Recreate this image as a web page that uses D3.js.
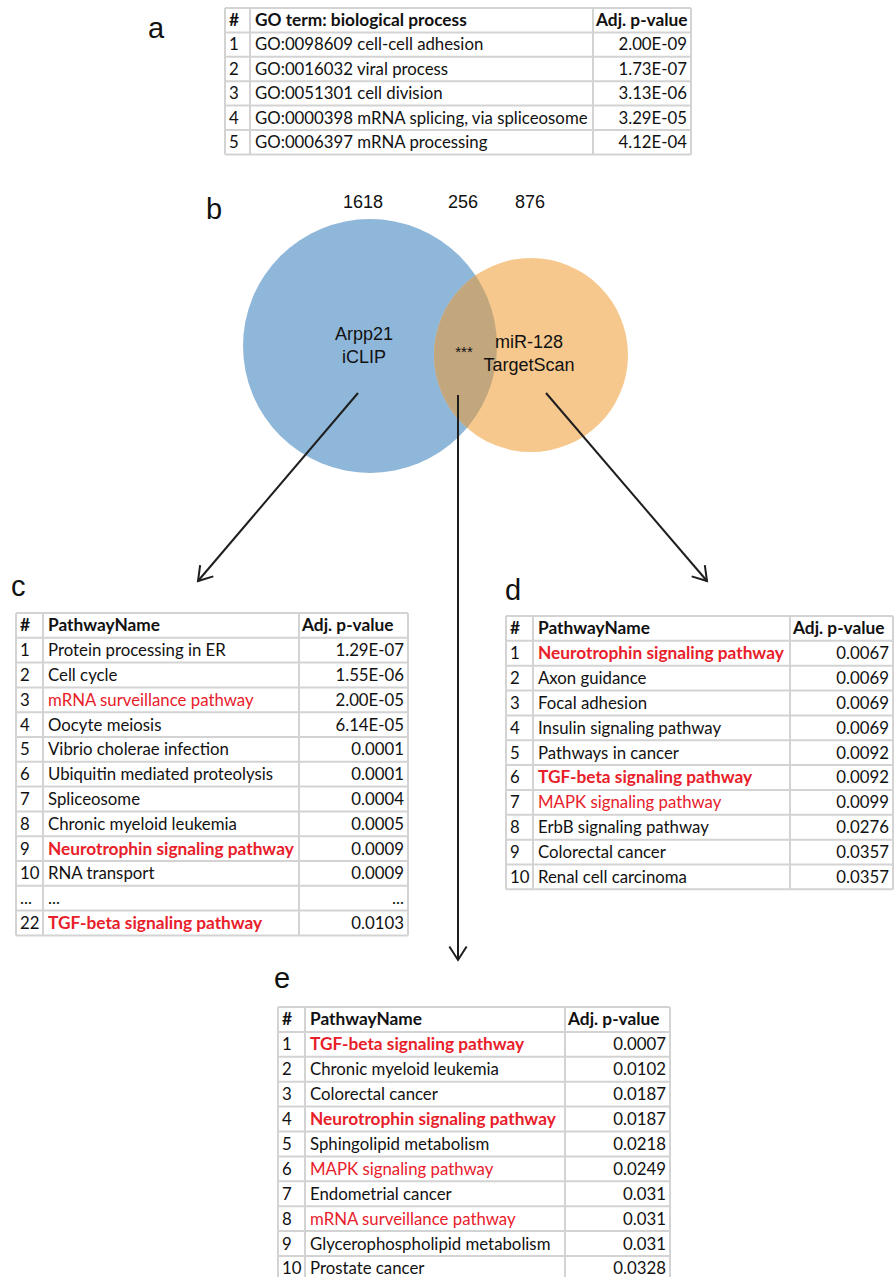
<!DOCTYPE html>
<html>
<head>
<meta charset="utf-8">
<script src="https://cdn.jsdelivr.net/npm/d3@7"></script>
<style>
  html, body { margin: 0; padding: 0; background: #fff; }
  svg { display: block; }
  .cell { font-family: Lato, "Open Sans", sans-serif; font-size: 16.8px; fill: #111;
          font-variant-numeric: tabular-nums; font-feature-settings: "tnum" 1; }
  .cell.bold { font-weight: 700; font-size: 17.3px; }
  .panel { font-family: "Liberation Sans", Arial, sans-serif; font-size: 29px; fill: #111; }
  .venn { font-family: "Liberation Sans", Arial, sans-serif; font-size: 18px; fill: #111; }
</style>
</head>
<body>
<svg id="fig" width="894" height="1277"></svg>
<script>
// ---- GO enrichment (panel a) ----
const goIds = ["1", "2", "3", "4", "5"];
const goTerms = [
  "GO:0098609 cell-cell adhesion",
  "GO:0016032 viral process",
  "GO:0051301 cell division",
  "GO:0000398 mRNA splicing, via spliceosome",
  "GO:0006397 mRNA processing"
];
const goPvalues = ["2.00E-09", "1.73E-07", "3.13E-06", "3.29E-05", "4.12E-04"];

// ---- Venn diagram (panel b) ----
const vennCounts = [1618, 256, 876];
const vennSets = [["Arpp21", "iCLIP"], ["miR-128", "TargetScan"]];
const vennSignif = "***";

// ---- KEGG pathways, Arpp21 iCLIP targets (panel c) ----
const cIds = ["1", "2", "3", "4", "5", "6", "7", "8", "9", "10", "...", "22"];
const cNames = [
  "Protein processing in ER", "Cell cycle", "mRNA surveillance pathway", "Oocyte meiosis",
  "Vibrio cholerae infection", "Ubiquitin mediated proteolysis", "Spliceosome",
  "Chronic myeloid leukemia", "Neurotrophin signaling pathway", "RNA transport", "...",
  "TGF-beta signaling pathway"
];
const cPvalues = ["1.29E-07", "1.55E-06", "2.00E-05", "6.14E-05", "0.0001", "0.0001",
  "0.0004", "0.0005", "0.0009", "0.0009", "...", "0.0103"];
// highlight: 0 none, 1 red, 2 red bold
const cMark = [0, 0, 1, 0, 0, 0, 0, 0, 2, 0, 0, 2];

// ---- KEGG pathways, miR-128 TargetScan targets (panel d) ----
const dIds = ["1", "2", "3", "4", "5", "6", "7", "8", "9", "10"];
const dNames = [
  "Neurotrophin signaling pathway", "Axon guidance", "Focal adhesion",
  "Insulin signaling pathway", "Pathways in cancer", "TGF-beta signaling pathway",
  "MAPK signaling pathway", "ErbB signaling pathway", "Colorectal cancer",
  "Renal cell carcinoma"
];
const dPvalues = ["0.0067", "0.0069", "0.0069", "0.0069", "0.0092", "0.0092",
  "0.0099", "0.0276", "0.0357", "0.0357"];
const dMark = [2, 0, 0, 0, 0, 2, 1, 0, 0, 0];

// ---- KEGG pathways, overlap (panel e) ----
const eIds = ["1", "2", "3", "4", "5", "6", "7", "8", "9", "10"];
const eNames = [
  "TGF-beta signaling pathway", "Chronic myeloid leukemia", "Colorectal cancer",
  "Neurotrophin signaling pathway", "Sphingolipid metabolism", "MAPK signaling pathway",
  "Endometrial cancer", "mRNA surveillance pathway", "Glycerophospholipid metabolism",
  "Prostate cancer"
];
const ePvalues = ["0.0007", "0.0102", "0.0187", "0.0187", "0.0218", "0.0249",
  "0.031", "0.031", "0.031", "0.0328"];
const eMark = [2, 0, 0, 2, 0, 1, 0, 1, 0, 0];

const pathwayHeader = ["#", "PathwayName", "Adj. p-value"];
const goHeader = ["#", "GO term: biological process", "Adj. p-value"];

const svg = d3.select("#fig");
const RED = "#e8202a";
const GRID = "#d3d3d3";

// Draws a bordered table; cols are the x positions of the vertical rules.
function drawTable(cfg) {
  const rows = [cfg.header].concat(cfg.ids.map((id, i) => [id, cfg.names[i], cfg.pvals[i]]));
  const marks = [3].concat(cfg.marks || cfg.ids.map(() => 0));
  const y = d3.scaleBand().domain(d3.range(rows.length))
    .range([cfg.top, cfg.top + cfg.rowH * rows.length]);
  const xEdges = cfg.cols;
  const bottom = cfg.top + cfg.rowH * rows.length;
  const g = svg.append("g");

  // horizontal rules
  g.selectAll("line.h").data(d3.range(rows.length + 1)).join("line")
    .attr("x1", xEdges[0]).attr("x2", xEdges[3])
    .attr("y1", i => i < rows.length ? y(i) : bottom)
    .attr("y2", i => i < rows.length ? y(i) : bottom)
    .attr("stroke", GRID).attr("stroke-width", 2);
  // vertical rules
  g.selectAll("line.v").data(xEdges).join("line")
    .attr("x1", d => d).attr("x2", d => d)
    .attr("y1", cfg.top).attr("y2", bottom)
    .attr("stroke", GRID).attr("stroke-width", 2);

  const rowG = g.selectAll("g.row").data(rows).join("g")
    .attr("transform", (d, i) => `translate(0,${y(i) + y.bandwidth() * 0.74})`);

  rowG.append("text")
    .attr("class", (d, i) => i === 0 ? "cell bold" : "cell")
    .attr("x", xEdges[0] + 4)
    .text(d => d[0]);
  rowG.append("text")
    .attr("class", (d, i) => (marks[i] === 2 || marks[i] === 3) ? "cell bold" : "cell")
    .attr("x", xEdges[1] + 5)
    .style("fill", (d, i) => (marks[i] === 1 || marks[i] === 2) ? RED : null)
    .text(d => d[1]);
  rowG.append("text")
    .attr("class", (d, i) => i === 0 ? "cell bold" : "cell")
    .attr("x", (d, i) => i === 0 ? xEdges[2] + 3 : xEdges[3] - 4)
    .attr("text-anchor", (d, i) => i === 0 ? "start" : "end")
    .text(d => d[2]);
}

// panel letters
const panels = [["a", 148, 38], ["b", 206, 219], ["c", 11, 596], ["d", 505, 600], ["e", 274, 988]];
svg.selectAll("text.panel").data(panels).join("text")
  .attr("class", "panel").attr("x", d => d[1]).attr("y", d => d[2]).text(d => d[0]);

drawTable({ header: goHeader, ids: goIds, names: goTerms, pvals: goPvalues,
  top: 8, rowH: 24.4, cols: [225, 250, 593, 691] });

// ---- Venn ----
const circles = [
  { cx: 370, cy: 346, r: 127, fill: "#8fb7da" },
  { cx: 531, cy: 355, r: 97, fill: "#f6c88d" }
];
const defs = svg.append("defs");
defs.append("clipPath").attr("id", "clipA").append("circle")
  .attr("cx", circles[0].cx).attr("cy", circles[0].cy).attr("r", circles[0].r);
const venn = svg.append("g");
venn.selectAll("circle.set").data(circles).join("circle")
  .attr("cx", d => d.cx).attr("cy", d => d.cy).attr("r", d => d.r).attr("fill", d => d.fill);
venn.append("circle").attr("clip-path", "url(#clipA)")
  .attr("cx", circles[1].cx).attr("cy", circles[1].cy).attr("r", circles[1].r)
  .attr("fill", "#c2a67e");

const countX = [363, 463, 530];
venn.selectAll("text.count").data(vennCounts).join("text")
  .attr("class", "venn").attr("text-anchor", "middle")
  .attr("x", (d, i) => countX[i]).attr("y", 208).text(d => d);

const setPos = [[364, 340], [529, 348]];
vennSets.forEach((lines, k) => {
  venn.selectAll(null).data(lines).join("text")
    .attr("class", "venn").attr("text-anchor", "middle")
    .attr("x", setPos[k][0]).attr("y", (d, i) => setPos[k][1] + i * 22.5).text(d => d);
});
venn.append("text").attr("class", "venn").attr("text-anchor", "middle")
  .style("font-size", "15px").attr("x", 464).attr("y", 357).text(vennSignif);

// arrows from the Venn regions to the pathway tables
const arrows = [
  [[358, 393], [198, 581]],
  [[458, 395], [458, 960]],
  [[546, 393], [707, 581]]
];
const ag = svg.append("g").attr("stroke", "#1e1e1e").attr("stroke-width", 2)
  .attr("fill", "none").attr("stroke-linecap", "butt");
arrows.forEach(([p0, p1]) => {
  ag.append("line").attr("x1", p0[0]).attr("y1", p0[1]).attr("x2", p1[0]).attr("y2", p1[1]);
  const ang = Math.atan2(p1[1] - p0[1], p1[0] - p0[0]);
  const len = 16, spread = Math.PI / 5.5;
  const pts = [
    [p1[0] - len * Math.cos(ang - spread), p1[1] - len * Math.sin(ang - spread)],
    p1,
    [p1[0] - len * Math.cos(ang + spread), p1[1] - len * Math.sin(ang + spread)]
  ];
  ag.append("path").attr("d", d3.line()(pts)).attr("stroke-linejoin", "miter");
});

drawTable({ header: pathwayHeader, ids: cIds, names: cNames, pvals: cPvalues, marks: cMark,
  top: 613, rowH: 24.8, cols: [16, 43, 299, 408] });
drawTable({ header: pathwayHeader, ids: dIds, names: dNames, pvals: dPvalues, marks: dMark,
  top: 616, rowH: 24.85, cols: [506, 533, 790, 893] });
drawTable({ header: pathwayHeader, ids: eIds, names: eNames, pvals: ePvalues, marks: eMark,
  top: 1007, rowH: 24.9, cols: [278, 305, 565, 670] });
</script>
</body>
</html>
